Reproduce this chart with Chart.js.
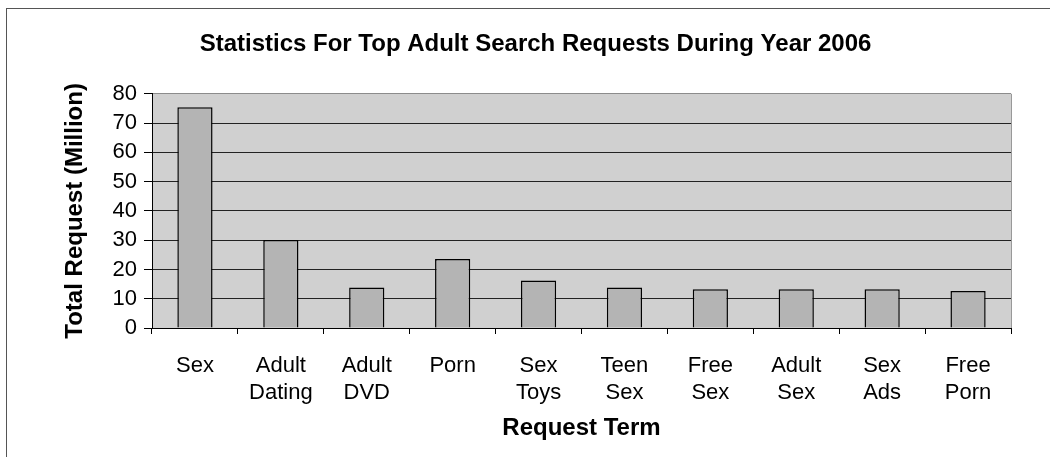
<!DOCTYPE html>
<html>
<head>
<meta charset="utf-8">
<script src="https://cdn.jsdelivr.net/npm/chart.js@4"></script>
<style>
  html, body { margin: 0; padding: 0; background: #fff; overflow: hidden; }
  #frame { position: absolute; left: 6px; top: 8px; width: 1100px; height: 500px;
           border-left: 1px solid #555; border-top: 1px solid #555; }
  #grafico { position: absolute; left: 0; top: 0; }
</style>
</head>
<body>
<div id="frame"></div>
<canvas id="grafico" width="1050" height="457"></canvas>
<script>
// Datos
const categorias = ["Sex", ["Adult", "Dating"], ["Adult", "DVD"], "Porn", ["Sex", "Toys"],
  ["Teen", "Sex"], ["Free", "Sex"], ["Adult", "Sex"], ["Sex", "Ads"], ["Free", "Porn"]];
const solicitudes = [75.4, 30.1, 13.8, 23.6, 16.2, 13.8, 13.2, 13.2, 13.2, 12.6];
const ejeY = { min: 0, max: 80, paso: 10 };

const fuente = "'Liberation Sans', Arial, sans-serif";

// fondo gris del area del grafico
const fondoPlot = {
  id: "fondoPlot",
  beforeDraw(chart) {
    const a = chart.chartArea;
    const ctx = chart.ctx;
    ctx.save();
    ctx.fillStyle = "#d0d0d0";
    ctx.fillRect(a.left, a.top, a.right - a.left, a.bottom - a.top);
    ctx.restore();
  },
  afterDraw(chart) {
    const a = chart.chartArea;
    const ctx = chart.ctx;
    ctx.save();
    ctx.strokeStyle = "#999";
    ctx.lineWidth = 1;
    ctx.beginPath();
    ctx.moveTo(Math.round(a.right) + 0.5, a.top);
    ctx.lineTo(Math.round(a.right) + 0.5, a.bottom);
    ctx.stroke();
    ctx.restore();
  }
};

new Chart(document.getElementById("grafico"), {
  type: "bar",
  data: {
    labels: categorias,
    datasets: [{
      data: solicitudes,
      backgroundColor: "#b4b4b4",
      borderColor: "#000",
      borderWidth: 1.5,
      barPercentage: 0.41,
      categoryPercentage: 1
    }]
  },
  options: {
    responsive: false,
    animation: false,
    layout: { padding: { left: 60, right: 39, top: 0, bottom: 0 } },
    plugins: {
      legend: { display: false },
      tooltip: { enabled: false },
      title: {
        display: true,
        text: "Statistics For Top Adult Search Requests During Year 2006",
        color: "#000",
        font: { family: fuente, size: 24, weight: "bold" },
        padding: { top: 30, bottom: 35 }
      }
    },
    scales: {
      x: {
        afterFit(scale) { scale.height = 129; },
        grid: { offset: true, drawOnChartArea: false, drawTicks: true, tickLength: 6, color: "#000" },
        border: { display: true, color: "#000", width: 1 },
        ticks: { color: "#000", font: { family: fuente, size: 22 }, padding: 19, maxRotation: 0, autoSkip: false },
        title: {
          display: true,
          text: "Request Term",
          color: "#000",
          font: { family: fuente, size: 24, weight: "bold" },
          padding: { top: 0, bottom: 14 }
        }
      },
      y: {
        min: ejeY.min,
        max: ejeY.max,
        afterFit(scale) { scale.width = 92; },
        grid: {
          color: (c) => (c.tick && c.tick.value === ejeY.max ? "#8c8c8c" : "#222"),
          tickColor: "#000",
          tickLength: 8
        },
        border: { display: true, color: "#000", width: 1 },
        ticks: { stepSize: ejeY.paso, autoSkip: false, color: "#000", font: { family: fuente, size: 22 }, padding: 7 },
        title: {
          display: true,
          text: "Total Request (Million)",
          color: "#000",
          font: { family: fuente, size: 24, weight: "bold" },
          padding: { top: 1, bottom: 0 }
        }
      }
    }
  },
  plugins: [fondoPlot]
});
</script>
</body>
</html>
